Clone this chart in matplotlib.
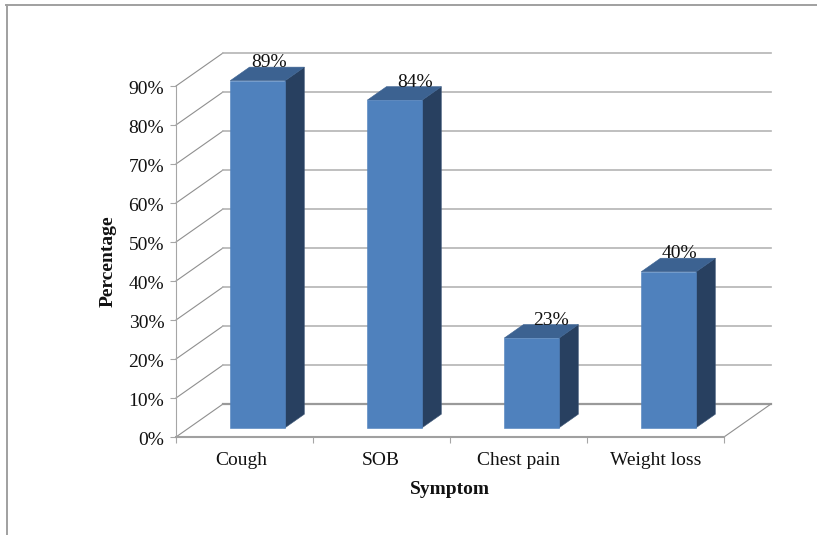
import matplotlib
matplotlib.use("Agg")
import matplotlib.pyplot as plt
from matplotlib.lines import Line2D
from matplotlib.patches import Polygon
from matplotlib.transforms import ScaledTranslation

plt.rcParams['font.family'] = ['Liberation Serif', 'DejaVu Serif']

symptoms = ['Cough', 'SOB', 'Chest pain', 'Weight loss']
percent = [89, 84, 23, 40]
y_ticks = [0, 10, 20, 30, 40, 50, 60, 70, 80, 90]

W, H = 817, 535
FONT = 14

# 3d look: depth goes from 0 (front) to 1 (back wall)
DEPTH_X = 47 / 137
DEPTH_Y = 33 / 3.9
BAR_W = 0.4
D0, D1 = 0.28, 0.69
# sideways nudge of the value labels and category labels, in pixels
label_nudge = [11, 20, 19, 11]
cat_nudge = [-3.5, -1, 0, 0]


def proj(x, y, d):
    return (x + d * DEPTH_X, y + d * DEPTH_Y)


fig = plt.figure(figsize=(W / 100, H / 100), dpi=100)
ax = fig.add_axes([176 / W, (H - 437) / H, 548 / W, 351 / H])
n = len(symptoms)
ax.set_xlim(0, n)
ax.set_ylim(0, 90)
ax.patch.set_alpha(0)

for s in ['top', 'right']:
    ax.spines[s].set_visible(False)
ax.spines['left'].set_color('#a6a6a6')
ax.spines['left'].set_linewidth(0.8)
ax.spines['bottom'].set_color('#a0a0a0')
ax.spines['bottom'].set_linewidth(1.5)

ax.set_yticks(y_ticks)
ax.set_yticklabels(['%d%%' % t for t in y_ticks], fontsize=FONT, color='#111111')
ax.tick_params(axis='y', length=4, width=0.8, color='#a6a6a6', pad=4.5)
ax.set_xticks(range(n + 1))
ax.set_xticklabels([])
ax.set_xticks([i + 0.5 for i in range(n)], minor=True)
ax.set_xticklabels(symptoms, minor=True, fontsize=FONT, color='#111111')
ax.tick_params(axis='x', which='major', length=4.5, width=0.8, color='#a6a6a6')
ax.tick_params(axis='x', which='minor', length=0, pad=11)

for lab in ax.get_yticklabels():
    lab.set_transform(lab.get_transform() + ScaledTranslation(0, -1.5 / 100, fig.dpi_scale_trans))
for lab, dx in zip(ax.get_xticklabels(minor=True), cat_nudge):
    lab.set_transform(lab.get_transform() + ScaledTranslation(dx / 100, 0, fig.dpi_scale_trans))

# walls and floor
for t in y_ticks:
    x0, y0 = proj(0, t, 0)
    x1, y1 = proj(0, t, 1)
    x2, y2 = proj(n, t, 1)
    ax.plot([x0, x1], [y0, y1], color='#8f8f8f', lw=0.8, clip_on=False, zorder=1)
    ax.plot([x1, x2], [y1, y2], color='#9a9a9a' if t == 0 else '#b4b4b4',
            lw=1.6 if t == 0 else 1.2, clip_on=False, zorder=1)
x0, y0 = proj(n, 0, 0)
x1, y1 = proj(n, 0, 1)
ax.plot([x0, x1], [y0, y1], color='#8f8f8f', lw=0.8, clip_on=False, zorder=1)

# bars
for i, v in enumerate(percent):
    a = i + 0.5 - BAR_W / 2
    b = i + 0.5 + BAR_W / 2
    front = [proj(a, 0, D0), proj(b, 0, D0), proj(b, v, D0), proj(a, v, D0)]
    side = [proj(b, 0, D0), proj(b, 0, D1), proj(b, v, D1), proj(b, v, D0)]
    top = [proj(a, v, D0), proj(b, v, D0), proj(b, v, D1), proj(a, v, D1)]
    ax.add_patch(Polygon(side, fc='#284060', ec='#3f5878', lw=0.4, clip_on=False, zorder=3))
    ax.add_patch(Polygon(top, fc='#3c6291', ec='#3c6291', lw=0.4, clip_on=False, zorder=3))
    ax.add_patch(Polygon(front, fc='#4f81bd', ec='#4f81bd', lw=0.4, clip_on=False, zorder=4))
    lx, ly = proj(i + 0.5, v, D0)
    ax.annotate('%d%%' % v, (lx, ly), xytext=(label_nudge[i] * 0.72, 18 * 0.72),
                textcoords='offset points', ha='center', va='center',
                fontsize=FONT, color='#111111', zorder=5, annotation_clip=False)

fig.text(450 / W, 1 - 489 / H, 'Symptom', fontsize=FONT, fontweight='bold',
         ha='center', va='center', color='#111111')
fig.text(108 / W, 1 - 261 / H, 'Percentage', fontsize=FONT, fontweight='bold',
         rotation=90, ha='center', va='center', color='#111111')

# outer chart border, only top and left show
fig.add_artist(Line2D([6.5 / W, 6.5 / W], [0, 1 - 5 / H], color='#a0a0a0', lw=1.4))
fig.add_artist(Line2D([6 / W, 1], [1 - 5 / H, 1 - 5 / H], color='#a0a0a0', lw=1.4))

fig.savefig('out.png', dpi=100)
